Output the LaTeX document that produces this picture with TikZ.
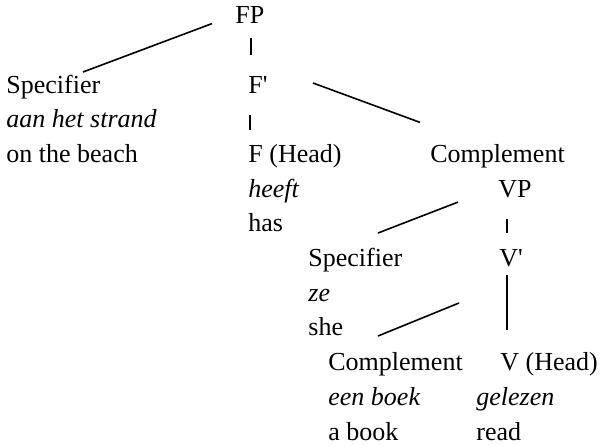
\documentclass[tikz,border=0pt]{standalone}
\usepackage{fontspec}
\setmainfont{Liberation Serif}
\usetikzlibrary{calc,math}

\begin{document}
\begin{tikzpicture}[x=0.5pt,y=-0.5pt,
    every node/.style={anchor=base west,inner sep=0pt,font=\fontsize{13}{16}\selectfont},
    ex/.style={font=\fontsize{13}{16}\selectfont\itshape},
    branch/.style={line width=0.8pt}]
    \tikzmath{ \dy=34.7; \r=93; }
    \useasboundingbox (0,0) rectangle (600,445);
    % FP
    \node (fp) at (235,{\r-2*\dy}) {FP};
    \node (spec1) at (6,\r) {Specifier};
    \node[ex] (spec1ex) at (6,{\r+\dy}) {aan het strand};
    \node (spec1gl) at (6,{\r+2*\dy}) {on the beach};
    \node (fbar) at (248,\r) {F\textquotesingle};
    \node (fhead) at (248,{\r+2*\dy}) {F (Head)};
    \node[ex] (fheadex) at (248,{\r+3*\dy}) {heeft};
    \node (fheadgl) at (248,{\r+4*\dy}) {has};
    \node (comp1) at (430,{\r+2*\dy}) {Complement};
    % VP
    \node (vp) at (498,{\r+3*\dy}) {VP};
    \node (spec2) at (308,{\r+5*\dy}) {Specifier};
    \node[ex] (spec2ex) at (308,{\r+6*\dy}) {ze};
    \node (spec2gl) at (308,{\r+7*\dy}) {she};
    \node (vbar) at (499,{\r+5*\dy}) {V\textquotesingle};
    \node (comp2) at (328,{\r+8*\dy}) {Complement};
    \node[ex] (comp2ex) at (328,{\r+9*\dy}) {een boek};
    \node (comp2gl) at (328,{\r+10*\dy}) {a book};
    \node (vhead) at (500,{\r+8*\dy}) {V (Head)};
    \node[ex] (vheadex) at (476,{\r+9*\dy}) {gelezen};
    \node (vheadgl) at (476,{\r+10*\dy}) {read};
    % branches
    \draw[branch] ($(fp.base west)+(-23,0)$) -- ($(spec1.base west)+(77,-21)$);
    \draw[branch] ($(fp.base west)+(16,14)$) -- ($(fbar.base west)+(3,-38)$);
    \draw[branch] ($(fbar.base west)+(2,22)$) -- ($(fhead.base west)+(2,-32)$);
    \draw[branch] ($(fbar.base west)+(65,-10)$) -- ($(comp1.base west)+(-10,-40)$);
    \draw[branch] ($(vp.base west)+(-40,5)$) -- ($(spec2.base west)+(70,-33.5)$);
    \draw[branch] ($(vp.base west)+(9,22)$) -- ($(vbar.base west)+(8,-33.5)$);
    \draw[branch] ($(vbar.base west)+(8,8.5)$) -- ($(vhead.base west)+(7,-40.6)$);
    \draw[branch] ($(vbar.base west)+(-40,36.5)$) -- ($(comp2.base west)+(50,-34.6)$);
\end{tikzpicture}
\end{document}
